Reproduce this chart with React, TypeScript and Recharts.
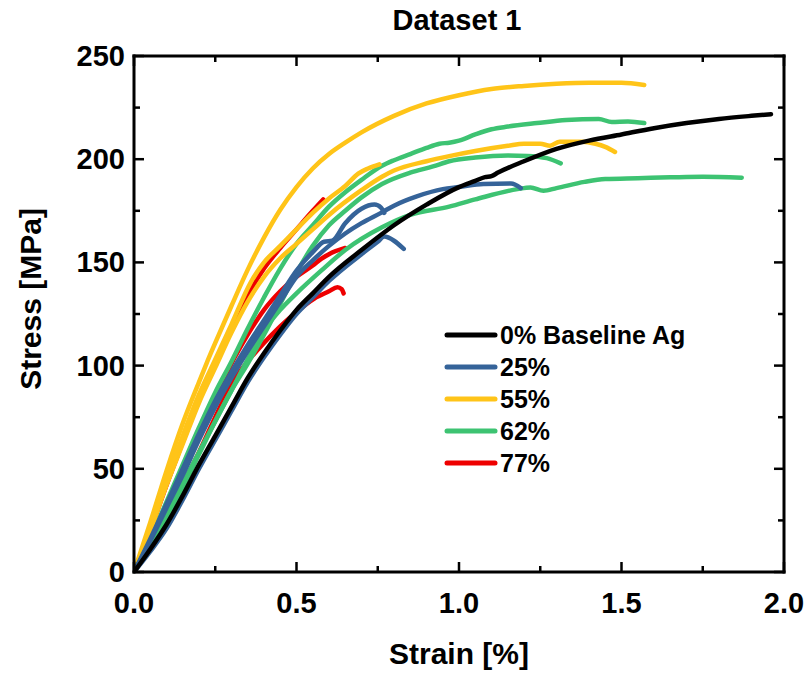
import { LineChart, Line, XAxis, YAxis, Legend } from "recharts";

const BLACK = "#000000";
const BLUE = "#356399";
const YELLOW = "#FFC418";
const GREEN = "#3DC372";
const RED = "#EE0000";

const FONT = "'Liberation Sans', Arial, Helvetica, sans-serif";

const xTicks = [0, 0.25, 0.5, 0.75, 1, 1.25, 1.5, 1.75, 2];
const yTicks = [0, 25, 50, 75, 100, 125, 150, 175, 200, 225, 250];

// 0% Baseline Ag
const baseStrain = [0, 0.05, 0.1, 0.15, 0.2, 0.25, 0.3, 0.35, 0.4, 0.45, 0.5, 0.55, 0.6, 0.7, 0.8, 0.9, 1.0, 1.05, 1.08, 1.1, 1.12, 1.2, 1.3, 1.4, 1.5, 1.6, 1.7, 1.8, 1.9, 1.96];
const baseStress = [0, 11, 23, 37, 52, 66, 80, 94, 106, 117, 127, 135, 143, 156, 168, 178, 186.5, 189.5, 191.3, 191.8, 193.5, 199, 205, 209, 212, 215, 217.5, 219.5, 221, 221.8];

// 25%
const b1Strain = [0, 0.05, 0.1, 0.15, 0.2, 0.25, 0.3, 0.35, 0.4, 0.45, 0.5, 0.55, 0.6, 0.65, 0.7, 0.76, 0.8, 0.87, 0.95, 1.0, 1.075, 1.16, 1.19];
const b1Stress = [0, 15, 31, 47, 64, 80, 94, 107, 119, 131, 143, 151, 158, 164, 169, 174, 177.5, 182, 185.5, 186.5, 188, 188.2, 186];
const b2Strain = [0, 0.05, 0.1, 0.15, 0.2, 0.25, 0.3, 0.35, 0.4, 0.45, 0.5, 0.55, 0.6, 0.7, 0.75, 0.77, 0.8, 0.83];
const b2Stress = [0, 10, 21, 35, 50, 64, 78, 92, 104, 115, 125, 133, 141, 154, 160, 162.5, 160.5, 156.5];
const b3Strain = [0, 0.05, 0.1, 0.15, 0.2, 0.25, 0.3, 0.35, 0.4, 0.45, 0.5, 0.55, 0.585, 0.61, 0.65, 0.7, 0.74, 0.76, 0.77];
const b3Stress = [0, 16, 33, 50, 67, 83, 97, 110, 122, 134, 146, 155, 160, 160.5, 169, 176, 178, 176.5, 174];

// 55%
const y1Strain = [0, 0.05, 0.1, 0.15, 0.2, 0.223, 0.25, 0.3, 0.35, 0.4, 0.45, 0.5, 0.55, 0.6, 0.65, 0.7, 0.8, 0.9, 1.0, 1.1, 1.2, 1.3, 1.4, 1.5, 1.57];
const y1Stress = [0, 24, 49, 72, 92, 101, 111, 129, 146.5, 162, 175.5, 186.5, 195.5, 202.5, 208, 213, 221, 227, 231, 234, 235.5, 236.5, 237, 237, 236];
const y2Strain = [0, 0.05, 0.1, 0.15, 0.2, 0.25, 0.3, 0.35, 0.4, 0.45, 0.5, 0.55, 0.6, 0.7, 0.763, 0.8, 0.9, 0.97, 1.05, 1.15, 1.2, 1.25, 1.28, 1.31, 1.38, 1.42, 1.45, 1.48];
const y2Stress = [0, 20, 42, 62, 82, 99, 116, 131, 143, 152, 159, 166, 173, 185, 191.5, 194.5, 199, 201.5, 204, 206.5, 207.5, 207.5, 206.5, 208.5, 208.5, 207.5, 206, 203.5];
const y3Strain = [0, 0.05, 0.1, 0.15, 0.2, 0.25, 0.3, 0.358, 0.4, 0.45, 0.5, 0.55, 0.6, 0.65, 0.69, 0.72, 0.755];
const y3Stress = [0, 21, 44, 66, 86, 103, 120, 140, 150, 158, 166, 174, 181, 187, 193, 195.5, 197.5];

// 62%
const g1Strain = [0, 0.05, 0.1, 0.15, 0.2, 0.25, 0.3, 0.35, 0.4, 0.45, 0.5, 0.55, 0.6, 0.65, 0.7, 0.763, 0.8, 0.85, 0.9, 0.94, 0.97, 1.0, 1.05, 1.1, 1.15, 1.24, 1.33, 1.43, 1.47, 1.52, 1.57];
const g1Stress = [0, 16, 34, 52, 70, 87, 102, 118, 133, 147, 159, 168, 177, 184, 190, 196.8, 199.5, 202.5, 205.5, 207.5, 208, 209, 212, 214.5, 215.8, 217.5, 219, 219.5, 218, 218.3, 217.5];
const g2Strain = [0, 0.05, 0.1, 0.15, 0.2, 0.25, 0.3, 0.35, 0.4, 0.45, 0.5, 0.55, 0.6, 0.65, 0.7, 0.763, 0.85, 0.92, 0.97, 1.05, 1.15, 1.21, 1.27, 1.313];
const g2Stress = [0, 13, 28, 43, 58, 73, 88, 101, 115, 130, 145, 158, 168, 175, 181.5, 188, 193.5, 196.5, 199, 200.8, 201.8, 201.6, 200.5, 198];
const g3Strain = [0, 0.05, 0.1, 0.15, 0.2, 0.25, 0.3, 0.35, 0.4, 0.45, 0.5, 0.576, 0.65, 0.763, 0.85, 0.97, 1.05, 1.18, 1.22, 1.26, 1.3, 1.386, 1.45, 1.55, 1.65, 1.75, 1.87];
const g3Stress = [0, 12, 26, 41, 57, 73, 88, 103, 117, 127, 135, 146, 156, 167, 173, 177, 180.5, 185.5, 186.3, 184.7, 186, 189, 190.4, 190.8, 191.2, 191.5, 191];

// 77%
const r1Strain = [0, 0.05, 0.1, 0.15, 0.2, 0.25, 0.3, 0.35, 0.4, 0.45, 0.5, 0.555, 0.6, 0.626, 0.639, 0.645];
const r1Stress = [0, 12, 26, 42, 58, 75, 91, 102, 111, 119, 126, 132.5, 136, 138, 137, 135];
const r2Strain = [0, 0.05, 0.1, 0.15, 0.2, 0.25, 0.3, 0.35, 0.4, 0.45, 0.5, 0.55, 0.582];
const r2Stress = [0, 20, 42, 63, 83, 101, 118, 134, 147, 157, 166, 175, 180.5];
const r3Strain = [0, 0.05, 0.1, 0.15, 0.2, 0.25, 0.3, 0.35, 0.4, 0.45, 0.5, 0.55, 0.576, 0.6, 0.65];
const r3Stress = [0, 14, 30, 48, 66, 84, 101, 115, 127, 136, 143, 148.5, 151.7, 154, 157];

const toPoints = (xs: number[], ys: number[]) =>
  xs.map((strain, i) => ({ strain, stress: ys[i] }));

// drawn bottom to top: red first, black last
const series = [
  { id: "r1", color: RED, points: toPoints(r1Strain, r1Stress) },
  { id: "r2", color: RED, points: toPoints(r2Strain, r2Stress) },
  { id: "r3", color: RED, points: toPoints(r3Strain, r3Stress) },
  { id: "g1", color: GREEN, points: toPoints(g1Strain, g1Stress) },
  { id: "g2", color: GREEN, points: toPoints(g2Strain, g2Stress) },
  { id: "g3", color: GREEN, points: toPoints(g3Strain, g3Stress) },
  { id: "y1", color: YELLOW, points: toPoints(y1Strain, y1Stress) },
  { id: "y2", color: YELLOW, points: toPoints(y2Strain, y2Stress) },
  { id: "y3", color: YELLOW, points: toPoints(y3Strain, y3Stress) },
  { id: "b1", color: BLUE, points: toPoints(b1Strain, b1Stress) },
  { id: "b2", color: BLUE, points: toPoints(b2Strain, b2Stress) },
  { id: "b3", color: BLUE, points: toPoints(b3Strain, b3Stress) },
  { id: "base", color: BLACK, points: toPoints(baseStrain, baseStress) },
];

const legendItems = [
  { label: "0% Baseline Ag", color: BLACK },
  { label: "25%", color: BLUE },
  { label: "55%", color: YELLOW },
  { label: "62%", color: GREEN },
  { label: "77%", color: RED },
];

const isMajor = (v: number, step: number) =>
  Math.abs(v / step - Math.round(v / step)) < 1e-6;

const tickText = {
  fontFamily: FONT,
  fontWeight: 700,
  fontSize: 29,
  fill: "#000",
};

const BottomTick = ({ x, y, payload }: any) => {
  const major = isMajor(payload.value, 0.5);
  return (
    <g>
      <line x1={x} x2={x} y1={y} y2={y - (major ? 10 : 6)} stroke="#000" strokeWidth={2.5} />
      {major && (
        <text x={x} y={y + 41} textAnchor="middle" style={tickText}>
          {payload.value.toFixed(1)}
        </text>
      )}
    </g>
  );
};

const TopTick = ({ x, y, payload }: any) => {
  const major = isMajor(payload.value, 0.5);
  return <line x1={x} x2={x} y1={y} y2={y + (major ? 10 : 6)} stroke="#000" strokeWidth={2.5} />;
};

const LeftTick = ({ x, y, payload }: any) => {
  const major = isMajor(payload.value, 50);
  return (
    <g>
      <line x1={x} x2={x + (major ? 10 : 6)} y1={y} y2={y} stroke="#000" strokeWidth={2.5} />
      {major && (
        <text x={x - 9} y={y + 10} textAnchor="end" style={tickText}>
          {payload.value}
        </text>
      )}
    </g>
  );
};

const RightTick = ({ x, y, payload }: any) => {
  const major = isMajor(payload.value, 50);
  return <line x1={x} x2={x - (major ? 10 : 6)} y1={y} y2={y} stroke="#000" strokeWidth={2.5} />;
};

const labelText = {
  fontFamily: FONT,
  fontWeight: 700,
  fill: "#000",
};

const renderLegend = () => (
  <div style={{ fontFamily: FONT, fontWeight: 700, fontSize: 25, color: "#000" }}>
    {legendItems.map((item) => (
      <div key={item.label} style={{ display: "flex", alignItems: "center", height: 32 }}>
        <svg width={56} height={10} style={{ display: "block" }}>
          <line x1={3} x2={51} y1={5} y2={5} stroke={item.color} strokeWidth={5} strokeLinecap="round" />
        </svg>
        <span style={{ lineHeight: "32px", whiteSpace: "nowrap" }}>{item.label}</span>
      </div>
    ))}
  </div>
);

const axisLine = { stroke: "#000", strokeWidth: 3, strokeLinecap: "square" as const };

export default function App() {
  return (
    <div style={{ position: "absolute", left: 0, top: 0, width: 804, height: 673, background: "#fff" }}>
      <LineChart width={804} height={673} margin={{ top: 55, right: 19, bottom: 100, left: 133 }}>
        <XAxis
          xAxisId="bottom"
          type="number"
          dataKey="strain"
          domain={[0, 2]}
          ticks={xTicks}
          interval={0}
          height={1}
          tickSize={0}
          tickMargin={0}
          tickLine={false}
          tick={<BottomTick />}
          axisLine={axisLine}
          allowDataOverflow
          label={{
            content: ({ viewBox }: any) => (
              <text x={viewBox.x + viewBox.width / 2} y={viewBox.y + 92} textAnchor="middle" style={{ ...labelText, fontSize: 30 }}>
                Strain [%]
              </text>
            ),
          }}
        />
        <XAxis
          xAxisId="top"
          orientation="top"
          type="number"
          dataKey="strain"
          domain={[0, 2]}
          ticks={xTicks}
          interval={0}
          height={1}
          tickSize={0}
          tickMargin={0}
          tickLine={false}
          tick={<TopTick />}
          axisLine={axisLine}
          allowDataOverflow
          label={{
            content: ({ viewBox }: any) => (
              <text x={viewBox.x + viewBox.width / 2 - 2} y={viewBox.y - 25} textAnchor="middle" style={{ ...labelText, fontSize: 29 }}>
                Dataset 1
              </text>
            ),
          }}
        />
        <YAxis
          yAxisId="left"
          type="number"
          domain={[0, 250]}
          ticks={yTicks}
          interval={0}
          width={1}
          tickSize={0}
          tickMargin={0}
          tickLine={false}
          tick={<LeftTick />}
          axisLine={axisLine}
          allowDataOverflow
          label={{
            content: ({ viewBox }: any) => {
              const cx = viewBox.x - 92;
              const cy = viewBox.y + viewBox.height / 2 - 15;
              return (
                <text x={cx} y={cy} transform={`rotate(-90 ${cx} ${cy})`} textAnchor="middle" style={{ ...labelText, fontSize: 30 }}>
                  Stress [MPa]
                </text>
              );
            },
          }}
        />
        <YAxis
          yAxisId="right"
          orientation="right"
          type="number"
          domain={[0, 250]}
          ticks={yTicks}
          interval={0}
          width={1}
          tickSize={0}
          tickMargin={0}
          tickLine={false}
          tick={<RightTick />}
          axisLine={axisLine}
          allowDataOverflow
        />
        {series.map((s) => (
          <Line
            key={s.id}
            xAxisId="bottom"
            yAxisId="left"
            data={s.points}
            dataKey="stress"
            type="monotoneX"
            stroke={s.color}
            strokeWidth={4.5}
            strokeLinecap="round"
            strokeLinejoin="round"
            dot={false}
            activeDot={false}
            isAnimationActive={false}
          />
        ))}
        <Legend
          layout="vertical"
          align="center"
          verticalAlign="middle"
          content={renderLegend}
          wrapperStyle={{ left: 444, top: 319, width: 320 }}
        />
      </LineChart>
    </div>
  );
}
